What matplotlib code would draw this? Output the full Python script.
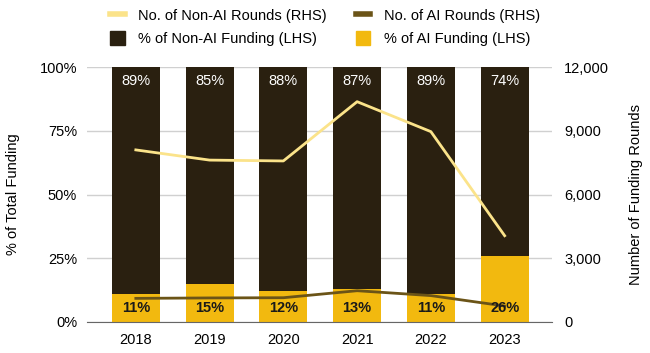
import matplotlib
matplotlib.use("Agg")
import matplotlib.pyplot as plt
from matplotlib.patches import Patch
from matplotlib.lines import Line2D
from matplotlib.ticker import FuncFormatter

plt.rcParams['font.family'] = ['Liberation Sans', 'DejaVu Sans']

years = ['2018', '2019', '2020', '2021', '2022', '2023']
ai_pct = [11, 15, 12, 13, 11, 26]
non_ai_pct = [89, 85, 88, 87, 89, 74]
non_ai_rounds = [8100, 7620, 7580, 10370, 8960, 4060]
ai_rounds = [1110, 1130, 1140, 1470, 1240, 750]

dark = '#2a2010'
yellow = '#f2b90f'
light_line = '#fbe38a'
brown_line = '#6b5417'

fig = plt.figure(figsize=(6.5, 3.53), dpi=100)
ax = fig.add_axes([0.1335, 0.088, 0.7155, 0.722])
x = list(range(len(years)))

ax.bar(x, ai_pct, width=0.65, color=yellow, zorder=2)
ax.bar(x, non_ai_pct, width=0.65, bottom=ai_pct, color=dark, zorder=2)

ax.set_ylim(0, 100)
ax.set_xlim(-0.665, 5.64)
ax.set_yticks([0, 25, 50, 75, 100])
ax.yaxis.set_major_formatter(FuncFormatter(lambda v, p: f'{int(v)}%'))
ax.set_xticks(x)
ax.set_xticklabels(years)
ax.grid(axis='y', color='#d0d0d0', linewidth=1, zorder=0)
ax.set_ylabel('% of Total Funding', fontsize=10.5, labelpad=14)
for s in ['top', 'right', 'left']:
    ax.spines[s].set_visible(False)
ax.spines['bottom'].set_color('#666666')
ax.tick_params(length=0, labelsize=10.5, pad=7)
ax.tick_params(axis='x', pad=8)

ax2 = ax.twinx()
ax2.plot(x, non_ai_rounds, color=light_line, linewidth=2, zorder=3)
ax2.plot(x, ai_rounds, color=brown_line, linewidth=2, zorder=3)
ax2.set_ylim(0, 12000)
ax2.set_yticks([0, 3000, 6000, 9000, 12000])
ax2.yaxis.set_major_formatter(FuncFormatter(lambda v, p: f'{int(v):,}'))
ax2.set_ylabel('Number of Funding Rounds', fontsize=10.5, labelpad=14)
for s in ['top', 'right', 'left', 'bottom']:
    ax2.spines[s].set_visible(False)
ax2.tick_params(length=0, labelsize=10.5, pad=9)

# labels on top of the lines
for i in x:
    ax2.text(i, 93, f'{non_ai_pct[i]}%', ha='center', va='baseline', color='white',
             fontsize=10.5, transform=ax.transData, zorder=5)
    ax2.text(i, 3.8, f'{ai_pct[i]}%', ha='center', va='baseline', color='#1a1a1a',
             fontsize=10.5, fontweight='bold', transform=ax.transData, zorder=5)

handles = [
    Line2D([0], [0], color=light_line, linewidth=4),
    Patch(color=dark),
    Line2D([0], [0], color=brown_line, linewidth=4),
    Patch(color=yellow),
]
labels = ['No. of Non-AI Rounds (RHS)', '% of Non-AI Funding (LHS)',
          'No. of AI Rounds (RHS)', '% of AI Funding (LHS)']
fig.legend(handles, labels, ncol=2, loc='upper center', bbox_to_anchor=(0.5, 1.015),
           frameon=False, fontsize=10.5, handlelength=1.0, handleheight=1.2,
           columnspacing=2.0, handletextpad=0.9, labelspacing=0.5)

fig.savefig('out.png', dpi=100)
